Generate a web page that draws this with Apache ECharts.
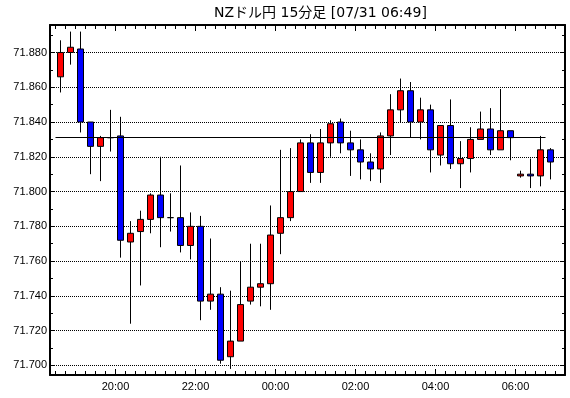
<!DOCTYPE html>
<html><head><meta charset="utf-8">
<script src="https://cdn.jsdelivr.net/npm/echarts@6/dist/echarts.min.js"></script>
<style>html,body{margin:0;padding:0;background:#fff}#c{width:570px;height:398px}</style>
</head><body><div id="c"></div>
<script>
// 15-minute slots (start times)
const times = ['18:30','18:45','19:00','19:15','19:30','19:45','20:00','20:15','20:30','20:45',
  '21:00','21:15','21:30','21:45','22:00','22:15','22:30','22:45','23:00','23:15',
  '23:30','23:45','00:00','00:15','00:30','00:45','01:00','01:15','01:30','01:45',
  '02:00','02:15','02:30','02:45','03:00','03:15','03:30','03:45','04:00','04:15',
  '04:30','04:45','05:00','05:15','05:30','05:45','06:00','06:15','06:30','06:45'];
const opens  = [71.866,71.880,71.882,71.840,71.826,71.831,71.832,71.771,71.777,71.784,
  71.798,71.785,71.785,71.769,71.780,71.737,71.741,71.705,71.714,71.737,
  71.745,71.747,71.776,71.785,71.800,71.828,71.811,71.828,71.840,71.828,
  71.824,71.817,71.813,71.832,71.847,71.858,71.840,71.847,71.821,71.838,
  71.816,71.819,71.830,71.836,71.824,71.835,71.809,71.810,71.809,71.824];
const closes = [71.880,71.883,71.840,71.826,71.831,71.831,71.772,71.776,71.784,71.798,
  71.785,71.785,71.769,71.780,71.737,71.741,71.703,71.714,71.735,71.745,
  71.747,71.775,71.785,71.800,71.828,71.811,71.828,71.839,71.828,71.824,
  71.817,71.813,71.832,71.847,71.858,71.840,71.847,71.824,71.838,71.816,
  71.819,71.830,71.836,71.824,71.835,71.831,71.810,71.809,71.824,71.817];
const lows   = [71.857,71.873,71.834,71.810,71.806,71.823,71.762,71.724,71.746,71.776,
  71.768,71.777,71.765,71.761,71.726,71.732,71.701,71.698,71.714,71.735,
  71.734,71.732,71.764,71.783,71.800,71.805,71.805,71.820,71.822,71.809,
  71.807,71.806,71.805,71.821,71.840,71.831,71.830,71.811,71.815,71.813,
  71.802,71.811,71.830,71.821,71.824,71.818,71.808,71.802,71.803,71.807];
const highs  = [71.887,71.892,71.892,71.840,71.832,71.847,71.843,71.783,71.789,71.799,
  71.820,71.799,71.815,71.788,71.786,71.773,71.745,71.743,71.760,71.770,
  71.770,71.792,71.824,71.825,71.830,71.833,71.836,71.841,71.842,71.835,
  71.830,71.822,71.834,71.856,71.865,71.863,71.854,71.850,71.838,71.853,
  71.829,71.837,71.846,71.848,71.859,71.835,71.812,71.819,71.832,71.825];
const refLevel = 71.831;
const refFrom = '18:30';
const refTo = '06:45';
const titleText = 'NZドル円 15分足 [07/31 06:49]';

function toHours(t){ const p=t.split(':').map(Number); let v=p[0]+p[1]/60; if(v<12) v+=24; return v; }
const half = 7.5/60;
const data = times.map((t,i)=>[toHours(t)+half, opens[i], closes[i], lows[i], highs[i]]);

const xMin = 18.3625, xMax = 31.2375;
const yMin = 71.6945, yMax = 71.8958;
const lbl = {color:'#000', fontSize:11, fontFamily:'"Liberation Sans", Arial, sans-serif'};
function xAxisCfg(pos, showLabel){
  return {type:'value', position:pos, min:xMin, max:xMax, splitNumber:6, scale:true,
    axisLine:{show:true, onZero:false, lineStyle:{color:'#000', width:2}},
    axisTick:{show:true, inside:true, length:6, lineStyle:{color:'#000', width:1}},
    minorTick:{show:true, splitNumber:8, length:4, lineStyle:{color:'#000', width:1}},
    splitLine:{show:false}, minorSplitLine:{show:false},
    axisLabel:Object.assign({show:showLabel, margin:6, showMinLabel:false, showMaxLabel:false,
      formatter:function(v){ const h=Math.round(v)%24; return (h<10?'0':'')+h+':00'; }}, lbl)};
}
function yAxisCfg(pos, showLabel){
  return {type:'value', position:pos, min:yMin, max:yMax, splitNumber:10, scale:true,
    axisLine:{show:true, onZero:false, lineStyle:{color:'#000', width:2}},
    axisTick:{show:true, inside:true, length:4, lineStyle:{color:'#000', width:1}},
    minorTick:{show:true, splitNumber:2, length:3, lineStyle:{color:'#000', width:1}},
    splitLine:{show:showLabel, lineStyle:{color:'#000', width:1, type:'dotted'}},
    minorSplitLine:{show:false},
    axisLabel:Object.assign({show:showLabel, margin:3, showMinLabel:false, showMaxLabel:false,
      formatter:function(v){ return v.toFixed(3); }}, lbl)};
}

const chart = echarts.init(document.getElementById('c'), null, {renderer:'canvas'});
chart.setOption({
  animation:false,
  backgroundColor:'#fff',
  title:{text:titleText, left:214, top:6, padding:0,
    textStyle:{fontSize:14, fontWeight:'normal', color:'#000', fontFamily:'"DejaVu Sans", "Noto Sans CJK JP", sans-serif'}},
  grid:{left:50, top:25, right:5, bottom:23, containLabel:false},
  xAxis:[xAxisCfg('bottom', true), xAxisCfg('top', false)],
  yAxis:[yAxisCfg('left', true), yAxisCfg('right', false)],
  series:[{
    type:'candlestick', xAxisIndex:0, yAxisIndex:0,
    dimensions:['t','open','close','lowest','highest'],
    encode:{x:0, y:[1,2,3,4]},
    data:data,
    barWidth:6,
    itemStyle:{color:'#ff0000', color0:'#0000ff', borderColor:'#000', borderColor0:'#000', borderColorDoji:'#000', borderWidth:1},
    emphasis:{disabled:true},
    markLine:{silent:true, symbol:['none','none'], label:{show:false},
      lineStyle:{color:'#000', width:1, type:'solid'},
      emphasis:{disabled:true},
      data:[[{coord:[toHours(refFrom), refLevel]},{coord:[toHours(refTo), refLevel]}]]}
  }]
});
</script></body></html>
